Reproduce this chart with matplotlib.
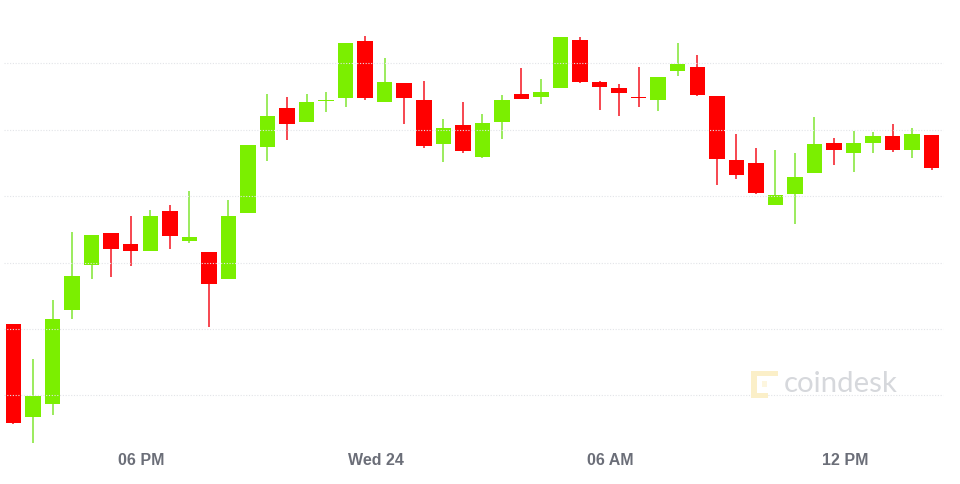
import matplotlib
matplotlib.use('Agg')
import matplotlib.pyplot as plt
from matplotlib.patches import Rectangle

# candle values (chart height scale, smaller = higher)
body_top = [324.3, 395.7, 319.3, 276, 234.7, 233.3, 244.3, 215.7, 211.3, 237.3, 252, 216,
            145, 116, 108.3, 102, 100, 42.7, 41.3, 82, 82.7, 100, 128, 125.3,
            123, 100, 94, 91.7, 37.3, 40.3, 82, 87.7, 97, 76.7, 64, 66.7,
            96, 159.7, 162.7, 195, 177.3, 143.7, 142.7, 142.7, 136.3, 136, 133.7, 135]
body_bottom = [422.7, 417, 404, 310.3, 264.7, 249.3, 251, 250.7, 235.7, 241, 284, 279,
               213.3, 147.3, 123.7, 122.3, 101, 98.3, 97.7, 102.3, 97.7, 146, 144, 151,
               157, 121.7, 99.3, 97.3, 88.3, 82.3, 87, 93, 97.7, 100, 71, 95.3,
               159, 175.3, 193, 205.3, 194, 173.3, 150.3, 152.7, 142.7, 150.3, 150, 167.7]
wick_high = [324.3, 359, 300, 232, 234.7, 233.3, 215.7, 210, 205, 190.7, 252, 200,
             145, 94, 97.3, 94, 92, 42.7, 36, 58.3, 82.7, 81, 119.3, 101.7,
             114, 94.7, 68, 78.7, 37.3, 37.3, 81, 84.3, 67.3, 76.7, 42.7, 55,
             96, 133.7, 148, 150, 153.3, 117, 138, 130.7, 132.3, 124, 128, 135]
wick_low = [423.7, 442.7, 415, 319, 279, 277.3, 266.3, 250.7, 249, 242.7, 326.7, 279,
            213.3, 160.7, 140, 122.3, 112.3, 107.3, 99.7, 102.3, 123.7, 147.7, 161.7, 152.7,
            158, 138.7, 99.3, 104, 88.3, 83.3, 110.3, 116.3, 107, 110.7, 76.3, 96,
            185, 179.3, 194.3, 205.3, 224.3, 173.3, 165.3, 172, 153, 152, 158.3, 170]
is_up = [0, 1, 1, 1, 1, 0, 0, 1, 0, 1, 0, 1,
         1, 1, 0, 1, 1, 1, 0, 1, 0, 0, 1, 0,
         1, 1, 0, 1, 1, 0, 0, 0, 0, 1, 1, 0,
         0, 0, 0, 1, 1, 1, 0, 1, 1, 0, 1, 0]

grid_levels = [63, 129.5, 196, 262.5, 328.5, 395]
tick_positions = [6.55, 18.57, 30.55, 42.58]
tick_labels = ['06 PM', 'Wed 24', '06 AM', '12 PM']

GREEN = '#7bef00'
RED = '#ff0000'
GREEN_WICK = '#8fe84a'
RED_WICK = '#f5303a'

STEP = 19.536
X0 = 13.5

fig = plt.figure(figsize=(9.6, 4.84), dpi=100)
ax = fig.add_axes([0, 34 / 484, 1, 450 / 484])
ax.set_xlim(-X0 / STEP, (960 - X0) / STEP)
ax.set_ylim(450, 0)
for s in ax.spines.values():
    s.set_visible(False)
ax.set_yticks([])

xs = list(range(len(is_up)))
colors = [GREEN if u else RED for u in is_up]
wick_colors = [GREEN_WICK if u else RED_WICK for u in is_up]
heights = [b - t for t, b in zip(body_top, body_bottom)]

ax.vlines(xs, wick_high, wick_low, colors=wick_colors, linewidth=1.25, zorder=2)
ax.bar(xs, heights, bottom=body_top, width=15.5 / STEP, color=colors, linewidth=0, zorder=3)

# dotted grid sits on top of the candles
ax.hlines(grid_levels, (4 - X0) / STEP, (943 - X0) / STEP, colors='#e2e4e8',
          linewidth=0.8, linestyles=(0, (1, 1.5)), zorder=4)

ax.set_xticks(tick_positions)
ax.set_xticklabels(tick_labels, fontsize=11.5, fontweight='bold', color='#6b6e78',
                   family='Liberation Sans')
ax.tick_params(axis='x', length=0, pad=2.2)

# coindesk watermark, placed in figure pixels
overlay = fig.add_axes([0, 0, 1, 1])
overlay.set_xlim(0, 960)
overlay.set_ylim(484, 0)
overlay.axis('off')
overlay.patch.set_alpha(0)
logo = '#fbefc8'
overlay.add_patch(Rectangle((751, 371), 6, 27, color=logo, lw=0))
overlay.add_patch(Rectangle((751, 371), 27, 5, color=logo, lw=0))
overlay.add_patch(Rectangle((751, 393), 17, 5, color=logo, lw=0))
overlay.add_patch(Rectangle((762, 381), 5, 6, color='#fdf6df', lw=0))
overlay.text(783.5, 384, 'coindesk', fontsize=21.2, color='#d6d8dc', family='Lato',
             fontweight='normal', va='center', ha='left')

fig.savefig('out.png', dpi=100, facecolor='white')
